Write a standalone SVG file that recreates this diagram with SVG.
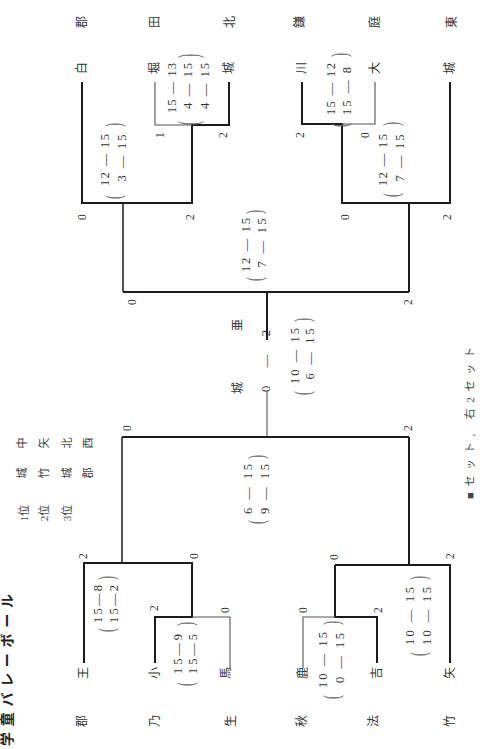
<svg xmlns="http://www.w3.org/2000/svg" width="489" height="749" viewBox="0 0 489 749">
<style>
text{font-family:"Liberation Serif","Noto Sans CJK JP",serif;fill:#333;text-anchor:middle;dominant-baseline:central}
.nm{font-size:12px}
.sc{font-size:12.5px}
.lb{font-size:11.5px}
.pr{font-size:12px;fill:#666}
.lg{font-size:11px;fill:#444}
.tt{font-size:14px;font-weight:bold;fill:#222}
.nt{font-size:11px;fill:#444}
.k{stroke:#1c1c1c;stroke-width:2;fill:none}
.m{stroke:#2a2a2a;stroke-width:1.6;fill:none}
.f{stroke:#555;stroke-width:1.1;fill:none}
</style>
<rect width="489" height="749" fill="#fff"/>

<!-- title and legend -->
<text class="tt" transform="translate(7,670) rotate(-90)" textLength="152" lengthAdjust="spacing">学童バレーボール</text>
<g id="legend">
<text class="lg" transform="translate(24,513) rotate(-90)">1位</text>
<text class="lg" transform="translate(22,473) rotate(-90)">城</text>
<text class="lg" transform="translate(22,443) rotate(-90)">中</text>
<text class="lg" transform="translate(44,513) rotate(-90)">2位</text>
<text class="lg" transform="translate(44,473) rotate(-90)">竹</text>
<text class="lg" transform="translate(44,443) rotate(-90)">矢</text>
<text class="lg" transform="translate(67,513) rotate(-90)">3位</text>
<text class="lg" transform="translate(67,473) rotate(-90)">城</text>
<text class="lg" transform="translate(67,443) rotate(-90)">北</text>
<text class="lg" transform="translate(88,473) rotate(-90)">郡</text>
<text class="lg" transform="translate(88,443) rotate(-90)">西</text>
</g>
<text class="nt" transform="translate(470,423) rotate(-90)" textLength="152" lengthAdjust="spacing">■セット, 右2セット</text>

<!-- teams -->
<g id="t-shiro-kori"><text class="nm" transform="translate(82,22) rotate(-90)">郡</text><text class="nm" transform="translate(82,68) rotate(-90)">白</text></g>
<g id="t-hori-ta"><text class="nm" transform="translate(155,22) rotate(-90)">田</text><text class="nm" transform="translate(155,68) rotate(-90)">堀</text></g>
<g id="t-jo-kita"><text class="nm" transform="translate(230,22) rotate(-90)">北</text><text class="nm" transform="translate(229,68) rotate(-90)">城</text></g>
<g id="t-kawa-kama"><text class="nm" transform="translate(300,22) rotate(-90)">鎌</text><text class="nm" transform="translate(302,68) rotate(-90)">川</text></g>
<g id="t-dai-niwa"><text class="nm" transform="translate(375,22) rotate(-90)">庭</text><text class="nm" transform="translate(375,68) rotate(-90)">大</text></g>
<g id="t-jo-higashi"><text class="nm" transform="translate(452,22) rotate(-90)">東</text><text class="nm" transform="translate(450,68) rotate(-90)">城</text></g>
<g id="t-o-kori"><text class="nm" transform="translate(84,673) rotate(-90)">王</text><text class="nm" transform="translate(82,721) rotate(-90)">郡</text></g>
<g id="t-sho-no"><text class="nm" transform="translate(155,673) rotate(-90)">小</text><text class="nm" transform="translate(155,721) rotate(-90)">乃</text></g>
<g id="t-uma-sei"><text class="nm" transform="translate(226,673) rotate(-90)">馬</text><text class="nm" transform="translate(231,721) rotate(-90)">生</text></g>
<g id="t-shika-aki"><text class="nm" transform="translate(303,673) rotate(-90)">鹿</text><text class="nm" transform="translate(302,721) rotate(-90)">秋</text></g>
<g id="t-kichi-ho"><text class="nm" transform="translate(377,673) rotate(-90)">吉</text><text class="nm" transform="translate(374,721) rotate(-90)">法</text></g>
<g id="t-ya-take"><text class="nm" transform="translate(450,673) rotate(-90)">矢</text><text class="nm" transform="translate(450,721) rotate(-90)">竹</text></g>
<g id="final"><text class="nm" transform="translate(238,325) rotate(-90)">亜</text><text class="nm" transform="translate(238,388) rotate(-90)">城</text>
<text class="sc" transform="translate(266,361) rotate(-90)" textLength="62" lengthAdjust="spacing">0 — 2</text></g>

<!-- connectors -->
<g id="connectors">
<path class="k" d="M82,82V203H192V125H229V82"/>
<path class="f" d="M155,82V125H192"/>
<path class="m" d="M123,203V292"/>
<path class="k" d="M302,82V124H342V203H450V82"/>
<path class="f" d="M342,124H375V82"/>
<path class="k" d="M409,203V292"/>
<path class="k" d="M123,292H409M267,292V340"/>
<path class="f" d="M267,392V437"/>
<path class="k" d="M122,437H409"/>
<path class="m" d="M122,437V563"/>
<path class="k" d="M84,663V563H192V617H155V663"/>
<path class="f" d="M192,617H230V668"/>
<path class="k" d="M409,437V565M335,565H450V663M335,565V617H377V663"/>
<path class="f" d="M303,668V617H335"/>
</g>

<!-- set counts -->
<g id="counts">
<text class="lb" transform="translate(160,135) rotate(-90)">1</text>
<text class="lb" transform="translate(223,135) rotate(-90)">2</text>
<text class="lb" transform="translate(300,135) rotate(-90)">2</text>
<text class="lb" transform="translate(365,135) rotate(-90)">0</text>
<text class="lb" transform="translate(82,217) rotate(-90)">0</text>
<text class="lb" transform="translate(190,217) rotate(-90)">2</text>
<text class="lb" transform="translate(345,217) rotate(-90)">0</text>
<text class="lb" transform="translate(447,217) rotate(-90)">2</text>
<text class="lb" transform="translate(132,302) rotate(-90)">0</text>
<text class="lb" transform="translate(408,302) rotate(-90)">2</text>
<text class="lb" transform="translate(127,428) rotate(-90)">0</text>
<text class="lb" transform="translate(408,428) rotate(-90)">2</text>
<text class="lb" transform="translate(83,556) rotate(-90)">2</text>
<text class="lb" transform="translate(194,556) rotate(-90)">0</text>
<text class="lb" transform="translate(334,557) rotate(-90)">0</text>
<text class="lb" transform="translate(450,556) rotate(-90)">2</text>
<text class="lb" transform="translate(154,608) rotate(-90)">2</text>
<text class="lb" transform="translate(225,610) rotate(-90)">0</text>
<text class="lb" transform="translate(303,610) rotate(-90)">0</text>
<text class="lb" transform="translate(378,610) rotate(-90)">2</text>
</g>

<!-- scores -->
<g id="scores">
<g transform="translate(188,88) rotate(-90)">
<text class="sc" y="-16.5" textLength="50" lengthAdjust="spacing">15 — 13</text>
<text class="sc" y="0" x="2" textLength="46" lengthAdjust="spacing">4 — 15</text>
<text class="sc" y="16.5" x="2" textLength="46" lengthAdjust="spacing">4 — 15</text>
<text class="pr" transform="translate(-35,0) scale(1,2.4)">(</text>
<text class="pr" transform="translate(32,0) scale(1,2.4)">)</text>
</g>
<g transform="translate(113,160) rotate(-90)">
<text class="sc" y="-8.5" textLength="52" lengthAdjust="spacing">12 — 15</text>
<text class="sc" y="8.5" x="2" textLength="47" lengthAdjust="spacing">3 — 15</text>
<text class="pr" transform="translate(-37,0) scale(1,2)">(</text>
<text class="pr" transform="translate(35,0) scale(1,2)">)</text>
</g>
<g transform="translate(339,89) rotate(-90)">
<text class="sc" y="-8" textLength="52" lengthAdjust="spacing">15 — 12</text>
<text class="sc" y="8" x="-2" textLength="48" lengthAdjust="spacing">15 — 8</text>
<text class="pr" transform="translate(-36,0) scale(1,2)">(</text>
<text class="pr" transform="translate(34,0) scale(1,2)">)</text>
</g>
<g transform="translate(391,160) rotate(-90)">
<text class="sc" y="-8.5" textLength="52" lengthAdjust="spacing">12 — 15</text>
<text class="sc" y="8.5" x="2" textLength="47" lengthAdjust="spacing">7 — 15</text>
<text class="pr" transform="translate(-35,0) scale(1,2)">(</text>
<text class="pr" transform="translate(36,0) scale(1,2)">)</text>
</g>
<g transform="translate(254,245) rotate(-90)">
<text class="sc" y="-8" textLength="54" lengthAdjust="spacing">12 — 15</text>
<text class="sc" y="8" x="2" textLength="49" lengthAdjust="spacing">7 — 15</text>
<text class="pr" transform="translate(-34,0) scale(1,2)">(</text>
<text class="pr" transform="translate(33,0) scale(1,2)">)</text>
</g>
<g transform="translate(302,356) rotate(-90)">
<text class="sc" y="-7.5" textLength="56" lengthAdjust="spacing">10 — 15</text>
<text class="sc" y="7.5" x="2" textLength="51" lengthAdjust="spacing">6 — 15</text>
<text class="pr" transform="translate(-37,0) scale(1,2)">(</text>
<text class="pr" transform="translate(36,0) scale(1,2)">)</text>
</g>
<g transform="translate(256,489) rotate(-90)">
<text class="sc" y="-8.5" textLength="50" lengthAdjust="spacing">6 — 15</text>
<text class="sc" y="8.5" textLength="50" lengthAdjust="spacing">9 — 15</text>
<text class="pr" transform="translate(-33,0) scale(1,2)">(</text>
<text class="pr" transform="translate(32,0) scale(1,2)">)</text>
</g>
<g transform="translate(106,604) rotate(-90)">
<text class="sc" y="-8" textLength="38" lengthAdjust="spacing">15—8</text>
<text class="sc" y="8" textLength="38" lengthAdjust="spacing">15—2</text>
<text class="pr" transform="translate(-26,0) scale(1,2)">(</text>
<text class="pr" transform="translate(26,0) scale(1,2)">)</text>
</g>
<g transform="translate(185,654) rotate(-90)">
<text class="sc" y="-7.5" textLength="40" lengthAdjust="spacing">15—9</text>
<text class="sc" y="7.5" textLength="40" lengthAdjust="spacing">15—5</text>
<text class="pr" transform="translate(-30,0) scale(1,2)">(</text>
<text class="pr" transform="translate(30,0) scale(1,2)">)</text>
</g>
<g transform="translate(331,660) rotate(-90)">
<text class="sc" y="-8.5" textLength="56" lengthAdjust="spacing">10 — 15</text>
<text class="sc" y="8.5" x="2" textLength="50" lengthAdjust="spacing">0 — 15</text>
<text class="pr" transform="translate(-37,0) scale(1,2)">(</text>
<text class="pr" transform="translate(37,0) scale(1,2)">)</text>
</g>
<g transform="translate(418,616) rotate(-90)">
<text class="sc" y="-8.5" textLength="58" lengthAdjust="spacing">10 — 15</text>
<text class="sc" y="8.5" textLength="58" lengthAdjust="spacing">10 — 15</text>
<text class="pr" transform="translate(-38,0) scale(1,2)">(</text>
<text class="pr" transform="translate(38,0) scale(1,2)">)</text>
</g>
</g>
</svg>
